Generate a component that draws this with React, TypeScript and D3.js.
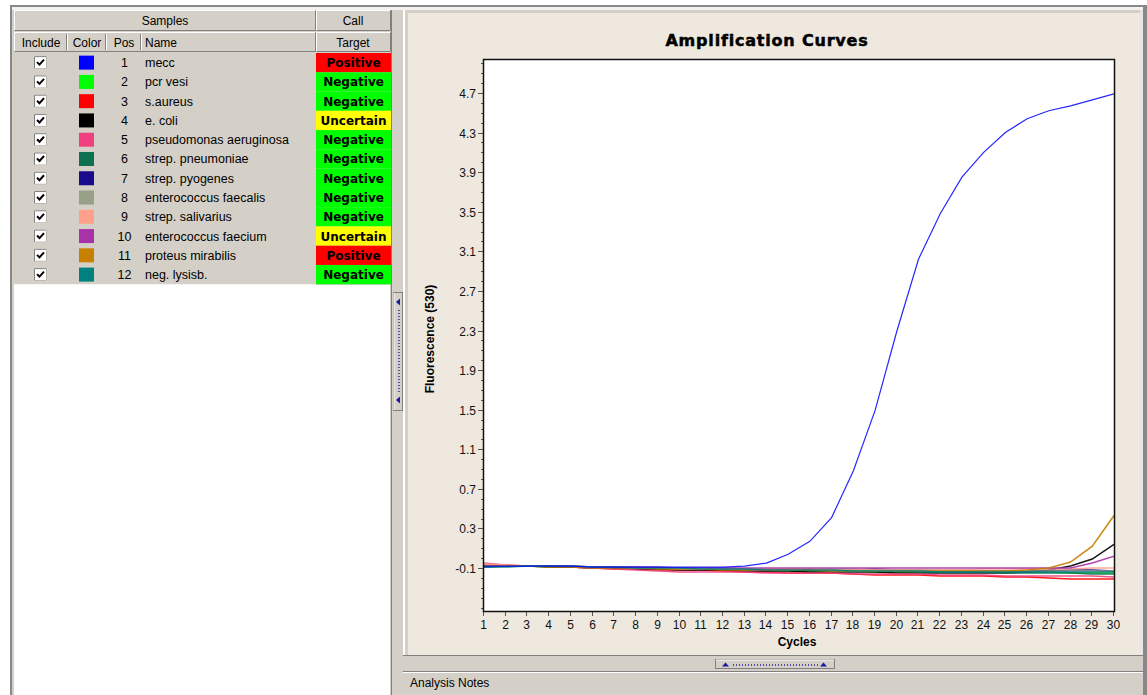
import React from "react";
import * as d3 from "d3";

// Cycle numbers on the x axis
const cycles = [1, 2, 3, 4, 5, 6, 7, 8, 9, 10, 11, 12, 13, 14, 15, 16, 17, 18, 19, 20, 21, 22, 23, 24, 25, 26, 27, 28, 29, 30];

// Sample table
const samplePos = [1, 2, 3, 4, 5, 6, 7, 8, 9, 10, 11, 12];
const sampleNames = [
  "mecc", "pcr vesi", "s.aureus", "e. coli", "pseudomonas aeruginosa", "strep. pneumoniae",
  "strep. pyogenes", "enterococcus faecalis", "strep. salivarius", "enterococcus faecium",
  "proteus mirabilis", "neg. lysisb.",
];
const sampleColors = [
  "#0000ff", "#00ff00", "#ff0000", "#000000", "#f0407f", "#107052",
  "#1a0a8c", "#98a088", "#ffa08a", "#a832a8", "#c88000", "#00807f",
];
const sampleCalls = [
  "Positive", "Negative", "Negative", "Uncertain", "Negative", "Negative",
  "Negative", "Negative", "Negative", "Uncertain", "Positive", "Negative",
];
const callColors: Record<string, string> = { Positive: "#ff0000", Negative: "#00ff00", Uncertain: "#ffff00" };

// Fluorescence (530) per cycle for each sample
const mecc = [-0.08, -0.08, -0.08, -0.08, -0.08, -0.09, -0.09, -0.09, -0.09, -0.09, -0.09, -0.09, -0.08, -0.05, 0.04, 0.17, 0.41, 0.88, 1.49, 2.29, 3.02, 3.48, 3.85, 4.10, 4.30, 4.44, 4.52, 4.57, 4.63, 4.69];
const pcrVesi = [-0.08, -0.08, -0.08, -0.09, -0.09, -0.09, -0.10, -0.10, -0.11, -0.11, -0.11, -0.12, -0.12, -0.12, -0.13, -0.13, -0.13, -0.13, -0.14, -0.14, -0.14, -0.14, -0.14, -0.14, -0.14, -0.14, -0.14, -0.15, -0.15, -0.15];
const sAureus = [-0.07, -0.07, -0.08, -0.08, -0.09, -0.10, -0.11, -0.11, -0.12, -0.12, -0.12, -0.13, -0.14, -0.14, -0.15, -0.15, -0.15, -0.16, -0.17, -0.17, -0.17, -0.18, -0.18, -0.18, -0.19, -0.19, -0.20, -0.21, -0.21, -0.21];
const eColi = [-0.08, -0.08, -0.08, -0.09, -0.09, -0.10, -0.10, -0.11, -0.11, -0.12, -0.12, -0.12, -0.13, -0.13, -0.13, -0.14, -0.14, -0.14, -0.14, -0.15, -0.15, -0.15, -0.15, -0.15, -0.15, -0.14, -0.12, -0.08, -0.01, 0.14];
const pseudomonas = [-0.05, -0.07, -0.08, -0.08, -0.09, -0.10, -0.11, -0.12, -0.13, -0.14, -0.14, -0.14, -0.14, -0.15, -0.15, -0.15, -0.15, -0.16, -0.16, -0.16, -0.16, -0.17, -0.17, -0.17, -0.18, -0.18, -0.18, -0.18, -0.18, -0.19];
const pneumoniae = [-0.09, -0.08, -0.08, -0.08, -0.09, -0.09, -0.09, -0.10, -0.10, -0.11, -0.11, -0.11, -0.12, -0.12, -0.12, -0.12, -0.13, -0.13, -0.13, -0.13, -0.14, -0.14, -0.14, -0.14, -0.15, -0.15, -0.15, -0.15, -0.16, -0.16];
const pyogenes = [-0.09, -0.08, -0.08, -0.08, -0.09, -0.09, -0.10, -0.10, -0.10, -0.11, -0.11, -0.11, -0.11, -0.12, -0.12, -0.12, -0.12, -0.12, -0.11, -0.12, -0.12, -0.13, -0.13, -0.13, -0.13, -0.13, -0.13, -0.12, -0.12, -0.13];
const faecalis = [-0.08, -0.08, -0.08, -0.08, -0.08, -0.09, -0.09, -0.09, -0.10, -0.10, -0.10, -0.10, -0.11, -0.11, -0.11, -0.11, -0.11, -0.11, -0.12, -0.12, -0.12, -0.12, -0.12, -0.13, -0.13, -0.13, -0.13, -0.13, -0.13, -0.13];
const salivarius = [-0.06, -0.07, -0.08, -0.08, -0.08, -0.09, -0.09, -0.10, -0.10, -0.11, -0.11, -0.11, -0.11, -0.11, -0.11, -0.11, -0.12, -0.12, -0.12, -0.12, -0.12, -0.12, -0.12, -0.11, -0.11, -0.11, -0.11, -0.11, -0.10, -0.10];
const faecium = [-0.08, -0.08, -0.08, -0.08, -0.08, -0.09, -0.09, -0.09, -0.09, -0.10, -0.10, -0.10, -0.10, -0.10, -0.10, -0.10, -0.10, -0.10, -0.10, -0.10, -0.10, -0.10, -0.10, -0.10, -0.10, -0.10, -0.10, -0.10, -0.05, 0.02];
const mirabilis = [-0.08, -0.08, -0.08, -0.09, -0.09, -0.10, -0.10, -0.10, -0.11, -0.11, -0.11, -0.12, -0.12, -0.12, -0.12, -0.12, -0.13, -0.13, -0.13, -0.13, -0.13, -0.13, -0.13, -0.13, -0.13, -0.12, -0.10, -0.04, 0.12, 0.43];
const negLysisb = [-0.09, -0.09, -0.08, -0.08, -0.08, -0.09, -0.09, -0.10, -0.10, -0.10, -0.11, -0.11, -0.11, -0.12, -0.12, -0.12, -0.12, -0.13, -0.13, -0.13, -0.13, -0.14, -0.14, -0.14, -0.14, -0.14, -0.14, -0.14, -0.14, -0.14];

const seriesValues = [mecc, pcrVesi, sAureus, eColi, pseudomonas, pneumoniae, pyogenes, faecalis, salivarius, faecium, mirabilis, negLysisb];

// Axis tick labels
const yTickLabels = ["-0.1", "0.3", "0.7", "1.1", "1.5", "1.9", "2.3", "2.7", "3.1", "3.5", "3.9", "4.3", "4.7"];

const W = 1147;
const H = 695;
const WIN = "#d4d0c8";
const PANEL = "#eee8df";
const UI_FONT = "'Liberation Sans', Arial, sans-serif";

// Plot frame
const PL = 484, PR = 1114, PT = 60, PB = 611;

const x = d3.scaleLinear().domain([1, 30]).range([PL, PR]);
const y = d3.scaleLinear().domain([-0.534, 5.033]).range([PB, PT]);

const line = d3
  .line<number>()
  .x((_, i) => x(cycles[i]))
  .y((v) => y(v))
  .curve(d3.curveLinear);

// Table geometry
const TX = 14;
const ROW0 = 53;
const ROWH = 19.27;

function Raised({ x0, y0, w, h }: { x0: number; y0: number; w: number; h: number }) {
  return (
    <g>
      <rect x={x0} y={y0} width={w} height={h} fill={WIN} />
      <path d={`M${x0 + 0.5},${y0 + h - 0.5}V${y0 + 0.5}H${x0 + w - 0.5}`} stroke="#ffffff" fill="none" />
      <path d={`M${x0 + 0.5},${y0 + h - 0.5}H${x0 + w - 0.5}V${y0 + 0.5}`} stroke="#808080" fill="none" />
    </g>
  );
}

function CheckBox({ cx, cy }: { cx: number; cy: number }) {
  const s = 13;
  const x0 = cx - s / 2;
  const y0 = cy - s / 2;
  return (
    <g>
      <rect x={x0} y={y0} width={s} height={s} fill="#ffffff" />
      <path d={`M${x0 + 0.5},${y0 + s - 0.5}V${y0 + 0.5}H${x0 + s - 0.5}`} stroke="#808080" fill="none" />
      <path d={`M${x0 + 0.5},${y0 + s - 0.5}H${x0 + s - 0.5}V${y0 + 0.5}`} stroke="#b8b4ac" fill="none" />
      <path
        d={`M${x0 + 3},${y0 + 6} L${x0 + 5.5},${y0 + 8.5} L${x0 + 10},${y0 + 3.5}`}
        stroke="#000"
        strokeWidth={2}
        fill="none"
      />
    </g>
  );
}

export default function App() {
  const yMinor = d3.range(-5, 51).map((i) => i / 10);
  return (
    <div style={{ position: "fixed", left: 0, top: 0 }}>
      <svg width={W} height={H} style={{ display: "block" }}>
        <rect x={0} y={0} width={W} height={H} fill="#ffffff" />

        {/* window frame top line */}
        <rect x={10} y={5} width={W - 10} height={2} fill="#888888" />
        <rect x={10} y={7} width={W - 10} height={3} fill="#f4f2ee" />

        {/* left panel */}
        <rect x={10} y={10} width={382} height={H - 10} fill={WIN} />
        <rect x={10} y={5} width={2} height={H - 5} fill="#888888" />
        <rect x={TX} y={285} width={376} height={H - 285} fill="#ffffff" />

        {/* header row 1 */}
        <Raised x0={14} y0={10} w={302} h={21} />
        <Raised x0={316} y0={10} w={75} h={21} />
        <text x={165} y={25} fontFamily={UI_FONT} fontSize={12} textAnchor="middle">Samples</text>
        <text x={353} y={25} fontFamily={UI_FONT} fontSize={12} textAnchor="middle">Call</text>

        {/* header row 2 */}
        <Raised x0={14} y0={32} w={302} h={20} />
        <Raised x0={316} y0={32} w={75} h={20} />
        {[67, 106, 141].map((cx) => (
          <g key={cx}>
            <line x1={cx - 0.5} x2={cx - 0.5} y1={34} y2={50} stroke="#808080" />
            <line x1={cx + 0.5} x2={cx + 0.5} y1={34} y2={50} stroke="#ffffff" />
          </g>
        ))}
        <text x={41} y={47} fontFamily={UI_FONT} fontSize={12} textAnchor="middle">Include</text>
        <text x={87} y={47} fontFamily={UI_FONT} fontSize={12} textAnchor="middle">Color</text>
        <text x={124} y={47} fontFamily={UI_FONT} fontSize={12} textAnchor="middle">Pos</text>
        <text x={145} y={47} fontFamily={UI_FONT} fontSize={12}>Name</text>
        <text x={353} y={47} fontFamily={UI_FONT} fontSize={12} textAnchor="middle">Target</text>

        {/* sample rows */}
        {sampleNames.map((name, i) => {
          const top = ROW0 + i * ROWH;
          const cy = top + ROWH / 2;
          return (
            <g key={name}>
              <rect x={14} y={top} width={302} height={ROWH} fill={WIN} />
              <CheckBox cx={40.5} cy={cy} />
              <rect x={79} y={cy - 7} width={15} height={14} fill={sampleColors[i]} />
              <text x={124.5} y={cy + 4.5} fontFamily={UI_FONT} fontSize={12.5} textAnchor="middle">{samplePos[i]}</text>
              <text x={145} y={cy + 4.5} fontFamily={UI_FONT} fontSize={12.5}>{name}</text>
              <rect x={316} y={top} width={75} height={ROWH} fill={callColors[sampleCalls[i]]} />
              <text
                x={353.5}
                y={cy + 4.5}
                fontFamily="'DejaVu Sans', Verdana, sans-serif"
                fontWeight="bold"
                fontSize={12}
                textAnchor="middle"
              >
                {sampleCalls[i]}
              </text>
            </g>
          );
        })}
        <line x1={14} x2={316} y1={ROW0 + 12 * ROWH + 0.5} y2={ROW0 + 12 * ROWH + 0.5} stroke="#ffffff" />

        {/* vertical splitter */}
        <rect x={391} y={10} width={1} height={H - 10} fill="#808080" />
        <rect x={392} y={10} width={11} height={H - 10} fill={WIN} />
        <rect x={393.5} y={292.5} width={9} height={118} fill={WIN} stroke="#808080" />
        <line x1={394} x2={394} y1={293} y2={410} stroke="#ffffff" />
        <path d="M396,302 L400,298.5 L400,305.5 Z" fill="#1a1a9a" />
        <path d="M396,400 L400,396.5 L400,403.5 Z" fill="#1a1a9a" />
        {d3.range(310, 392, 3).map((yy) => (
          <rect key={yy} x={398} y={yy} width={2} height={1} fill="#4a4aa0" />
        ))}

        {/* chart panel */}
        <rect x={403} y={10} width={740} height={H - 10} fill={WIN} />
        <rect x={403} y={10} width={2} height={645} fill="#ffffff" />
        <rect x={408} y={13} width={732} height={642} fill={PANEL} />
        <rect x={1140} y={10} width={3} height={H - 10} fill="#e8e6e2" />
        <rect x={1143} y={5} width={4} height={H - 5} fill="#888888" />

        {/* title */}
        <text
          x={767}
          y={46}
          fontFamily="'DejaVu Sans', Verdana, sans-serif"
          fontWeight="bold"
          fontSize={16}
          letterSpacing={0.8}
          stroke="#000"
          strokeWidth={0.5}
          textAnchor="middle"
        >
          Amplification Curves
        </text>

        {/* plot area */}
        <rect x={PL} y={PT} width={PR - PL} height={PB - PT} fill="#ffffff" />

        {/* y axis ticks */}
        {yMinor.map((v) => (
          <line key={v} x1={PL - 3} x2={PL} y1={Math.round(y(v)) + 0.5} y2={Math.round(y(v)) + 0.5} stroke="#555" />
        ))}
        {yTickLabels.map((t) => {
          const yy = Math.round(y(+t)) + 0.5;
          return (
            <g key={t}>
              <line x1={PL - 6} x2={PL} y1={yy} y2={yy} stroke="#555" />
              <text x={PL - 8} y={yy + 4} fontFamily={UI_FONT} fontSize={12} textAnchor="end" fill="#111">{t}</text>
            </g>
          );
        })}

        {/* x axis ticks */}
        {cycles.map((c) => {
          const xx = Math.round(x(c)) - 0.5;
          return (
            <g key={c}>
              <line x1={xx} x2={xx} y1={PB} y2={PB + 5} stroke="#555" />
              <text x={xx} y={PB + 18} fontFamily={UI_FONT} fontSize={12} textAnchor="middle" fill="#111">{c}</text>
            </g>
          );
        })}

        {/* axis titles */}
        <text x={797} y={646} fontFamily={UI_FONT} fontWeight="bold" fontSize={12} textAnchor="middle">Cycles</text>
        <text
          transform={`translate(434,339) rotate(-90)`}
          fontFamily={UI_FONT}
          fontWeight="bold"
          fontSize={12}
          textAnchor="middle"
        >
          Fluorescence (530)
        </text>

        {/* curves: baselines first, the mecc curve on top */}
        <defs>
          <clipPath id="plotClip">
            <rect x={PL} y={PT} width={PR - PL} height={PB - PT} />
          </clipPath>
        </defs>
        <g clipPath="url(#plotClip)">
          {seriesValues
            .map((vals, i) => ({ vals, i }))
            .slice(1)
            .concat([{ vals: seriesValues[0], i: 0 }])
            .map(({ vals, i }) => (
              <path
                key={i}
                d={line(vals) ?? ""}
                fill="none"
                stroke={sampleColors[i]}
                strokeWidth={i === 0 ? 1.2 : 1.6}
                strokeOpacity={i === 0 ? 0.85 : 0.9}
              />
            ))}
        </g>

        {/* plot frame */}
        <rect x={PL - 0.5} y={PT - 0.5} width={PR - PL + 1} height={PB - PT + 1} fill="none" stroke="#111" strokeWidth={1.5} />

        {/* horizontal splitter */}
        <rect x={403} y={655} width={740} height={1} fill="#808080" />
        <rect x={403} y={656} width={740} height={15} fill={WIN} />
        <rect x={715.5} y={659.5} width={119} height={9} fill={WIN} stroke="#808080" />
        <line x1={716} x2={834} y1={660} y2={660} stroke="#ffffff" />
        <path d="M722,666.5 L725.5,662.5 L729,666.5 Z" fill="#1a1a9a" />
        <path d="M820,666.5 L823.5,662.5 L827,666.5 Z" fill="#1a1a9a" />
        {d3.range(733, 818, 3).map((xx) => (
          <rect key={xx} x={xx} y={664} width={1} height={2} fill="#4a4aa0" />
        ))}

        {/* analysis notes bar */}
        <rect x={403} y={671} width={740} height={1} fill="#808080" />
        <rect x={403} y={672} width={740} height={1} fill="#ffffff" />
        <rect x={403} y={673} width={740} height={22} fill={WIN} />
        <text x={410} y={687} fontFamily={UI_FONT} fontSize={12}>Analysis Notes</text>
      </svg>
    </div>
  );
}
